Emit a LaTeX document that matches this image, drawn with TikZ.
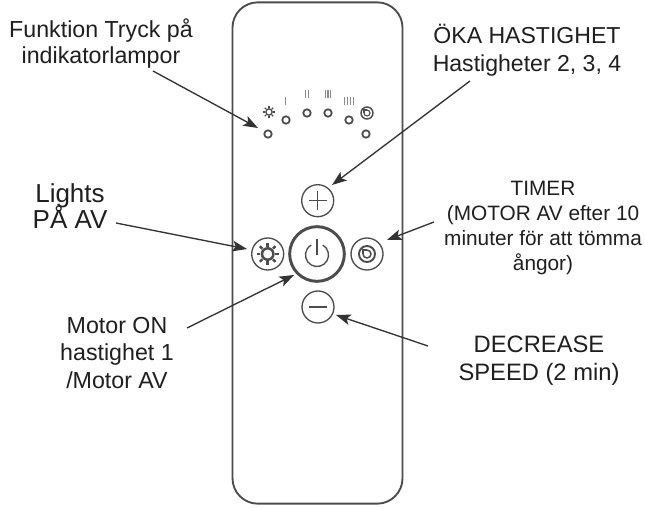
\documentclass[tikz,border=0pt]{standalone}
\usepackage{fontspec}
\setmainfont{Liberation Sans}
\usetikzlibrary{arrows.meta}
\definecolor{ln}{gray}{0.3}
\tikzset{
  x=0.75pt,y=-0.75pt,
  lbl/.style={align=center,inner sep=0pt,text=black!88,execute at begin node={\lineskiplimit=-30pt\relax}},
  arr/.style={draw=black!80,line width=1pt,-{Stealth[length=11pt,width=8pt,inset=2.5pt]}},
  btn/.style={circle,draw=ln,line width=1pt,minimum size=24pt,inner sep=0pt},
  led/.style={circle,draw=ln,line width=1.3pt,minimum size=5.6pt,inner sep=0pt},
  body/.style={draw=ln,line width=1.4pt,rounded corners=19pt},
  ico/.style={draw=ln,line width=0.9pt},
  tick/.style={draw=ln!65,line width=1.1pt},
}
\newcommand{\sunicon}[2]{%
  \begin{scope}[shift={#1}]
    \draw[ico,line width=#2*0.17pt] (0,0) circle[radius=#2*0.52];
    \foreach \a in {0,45,...,315}
      \draw[ico,line width=#2*0.17pt] (\a:#2*0.68) -- (\a:#2);
  \end{scope}}
\newcommand{\clockicon}[2]{%
  \begin{scope}[shift={#1}]
    \draw[ico,line width=#2*0.18pt] (0,0) circle[radius=#2];
    \draw[ico,line width=#2*0.14pt] (0,-0.5*#2) arc[start angle=-90,end angle=180,radius=#2*0.5];
    \draw[ico,line width=#2*0.14pt] (0,-0.5*#2) -- (-0.5*#2,-0.5*#2) -- (-0.5*#2,0);
  \end{scope}}
\begin{document}
\begin{tikzpicture}
\useasboundingbox (0,0) rectangle (645,509);
\fill[white] (0,0) rectangle (645,509);
% body
\node[body,minimum width=127.5pt,minimum height=376pt,inner sep=0pt] (remote) at (317.5,253) {};
% buttons
\node[btn] (plus) at (317.7,200.7) {};
\node[btn] (light) at (267.7,254) {};
\node[btn] (timer) at (367,254) {};
\node[btn] (minus) at (318,307) {};
\node[circle,draw=ln,line width=2.2pt,minimum size=41pt,inner sep=0pt] (power) at (317,254) {};
\draw[ico,line width=1pt] (308.5,200.7) -- (327,200.7) (317.7,191.5) -- (317.7,210);
\draw[ico,line width=1.5pt] (309,307) -- (327,307);
\draw[ico,line width=1pt] (317,255) ++(-60:11.5) arc[start angle=-60,end angle=240,radius=11.5];
\draw[ico,line width=1pt] (317,239) -- (317,255);
\sunicon{(267.7,254)}{11}
\clockicon{(367,254)}{8}
% LEDs
\node[led] (l1) at (268,134) {};
\node[led] (l2) at (286,120) {};
\node[led] (l3) at (307,113) {};
\node[led] (l4) at (328,113) {};
\node[led] (l5) at (349,120) {};
\node[led] (l6) at (366,134) {};
\sunicon{(269,112)}{6}
\clockicon{(367,113)}{6}
\draw[tick] (285.7,97) -- (285.7,105);
\draw[tick] (305.5,90) -- (305.5,98) (308.5,90) -- (308.5,98);
\draw[tick] (325.3,90) -- (325.3,98) (328,90) -- (328,98) (330.7,90) -- (330.7,98);
\draw[tick] (344.5,97) -- (344.5,105) (347.5,97) -- (347.5,105) (350.5,97) -- (350.5,105) (353.5,97) -- (353.5,105);
% labels
\node[lbl,font=\fontsize{17.4pt}{19pt}\selectfont] (t1) at (101,43.5) {Funktion Tryck på\\indikatorlampor};
\node[lbl,font=\fontsize{17.3pt}{21pt}\selectfont] (t2) at (527,50) {ÖKA HASTIGHET\\Hastigheter 2, 3, 4};
\node[lbl,font=\fontsize{19.5pt}{20pt}\selectfont] (t3) at (70,206) {Lights\\PÅ AV};
\node[lbl,font=\fontsize{15.6pt}{18.6pt}\selectfont] (t4) at (543,228) {TIMER\\(MOTOR AV efter 10\\minuter för att tömma\\ångor)};
\node[lbl,font=\fontsize{17.4pt}{20.6pt}\selectfont] (t5) at (117,353) {Motor ON\\hastighet 1\\/Motor AV};
\node[lbl,font=\fontsize{17.8pt}{21pt}\selectfont] (t6) at (539,361) {DECREASE\\SPEED (2 min)};
% arrows
\coordinate (a1) at (153,71);
\coordinate (a1e) at (258,128);
\coordinate (a2) at (470,81);
\coordinate (a2e) at (332,185);
\coordinate (a3) at (116,223);
\coordinate (a3e) at (247,249);
\coordinate (a4) at (434,222);
\coordinate (a4e) at (387,240);
\coordinate (a5) at (187,328);
\coordinate (a5e) at (294,275);
\coordinate (a6) at (428,346);
\coordinate (a6e) at (336,315);
\draw[arr] (a1) -- (a1e);
\draw[arr] (a2) -- (a2e);
\draw[arr] (a3) -- (a3e);
\draw[arr] (a4) -- (a4e);
\draw[arr] (a5) -- (a5e);
\draw[arr] (a6) -- (a6e);
\end{tikzpicture}
\end{document}
